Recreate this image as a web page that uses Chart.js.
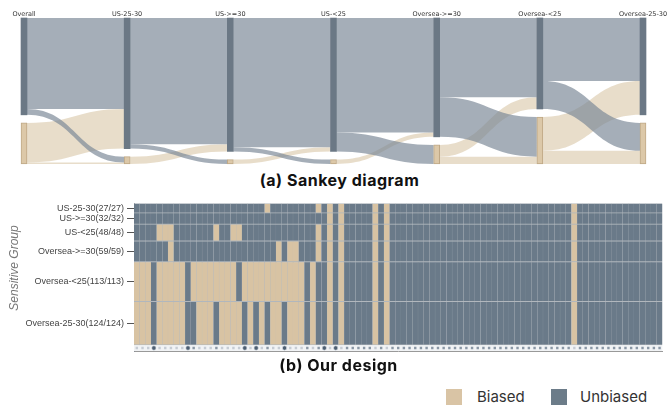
<!DOCTYPE html>
<html>
<head>
<meta charset="utf-8">
<script src="https://cdn.jsdelivr.net/npm/chart.js@4.4.1/dist/chart.umd.min.js"></script>
<style>
  html, body { margin: 0; padding: 0; background: #fff; }
  body { width: 667px; height: 408px; position: relative; overflow: hidden; font-family: Inter, "Liberation Sans", sans-serif; }
  #sankeyBox { position: absolute; left: 0; top: 0; width: 667px; height: 170px; }
  #matrixBox { position: absolute; left: 0; top: 195px; width: 667px; height: 165px; }
  .caption { position: absolute; width: 667px; height: 20px; line-height: 20px; text-align: center; font-weight: 700; font-size: 16px; letter-spacing: 0.5px; color: #111; }
  .swatch { position: absolute; width: 16px; height: 16px; top: 389px; }
  .key { position: absolute; top: 388px; font-size: 15px; line-height: 18px; color: #333; }
</style>
</head>
<body>
<div id="sankeyBox"><canvas id="sankey"></canvas></div>
<div class="caption" style="left:6px; top:170px;">(a) Sankey diagram</div>
<div id="matrixBox"><canvas id="matrix"></canvas></div>
<div class="caption" style="left:5px; top:355px;">(b) Our design</div>
<div class="swatch" style="left:446px; background:#d9c4a5;"></div>
<div class="key" style="left:477px;">Biased</div>
<div class="swatch" style="left:551px; background:#6c7c89;"></div>
<div class="key" style="left:580px;">Unbiased</div>

<script>
const BIASED = '#d8c3a3';
const UNBIASED = '#6a7a89';

// ---- sankey data ----
const stages = ['Overall', 'US-25-30', 'US->=30', 'US-<25', 'Oversea->=30', 'Oversea-<25', 'Oversea-25-30'];
// flows between neighbouring stages
const flowUU = [62, 86, 88, 78, 54, 43];   // unbiased -> unbiased
const flowUB = [4, 3, 3, 13, 27, 19];      // unbiased -> biased
const flowBU = [27, 5, 3, 3, 8, 23];       // biased -> unbiased
const flowBB = [1, 0, 0, 0, 5, 9];         // biased -> biased

// ---- matrix data ----
const groups = ['US-25-30(27/27)', 'US->=30(32/32)', 'US-<25(48/48)', 'Oversea->=30(59/59)', 'Oversea-<25(113/113)', 'Oversea-25-30(124/124)'];
const groupSizes = [27, 32, 48, 59, 113, 124];
const columnCount = 93;
const biasedUS2530 = [23, 32, 34, 36, 42, 44, 77];
const biasedUSge30 = [34, 36, 42, 44, 77];
const biasedUSlt25 = [4, 5, 6, 14, 17, 18, 32, 34, 36, 42, 44, 77];
const biasedOSge30 = [6, 25, 27, 28, 32, 34, 36, 42, 44, 77];
const biasedOSlt25 = [0, 1, 2, 4, 5, 6, 7, 8, 10, 11, 12, 13, 14, 15, 16, 17, 19, 20, 21, 22, 23, 24, 25, 26, 27, 28, 29, 31, 34, 36, 42, 44, 77];
const biasedOS2530 = [0, 1, 2, 4, 5, 6, 7, 8, 11, 12, 13, 15, 16, 17, 18, 20, 22, 24, 25, 27, 28, 29, 31, 34, 36, 42, 44, 77];
const flaggedCols = [3, 9, 19, 21, 26, 33, 35];

// ================= Sankey =================
const GAP = 5.5;
const unbiasedNode = stages.map((s, i) => i < flowUU.length ? flowUU[i] + flowUB[i] : flowUU[i - 1] + flowBU[i - 1]);
const biasedNode = stages.map((s, i) => i < flowUU.length ? flowBU[i] + flowBB[i] : flowUB[i - 1] + flowBB[i - 1]);
const NODE_W = 6;

const sankeyFlows = {
  id: 'sankeyFlows',
  beforeDatasetsDraw(chart) {
    const { ctx, scales: { x, y } } = chart;
    const band = (x0, x1, s0, t0, v, color) => {
      if (!v) return;
      const ys0 = y.getPixelForValue(s0), ys1 = y.getPixelForValue(s0 + v);
      const yt0 = y.getPixelForValue(t0), yt1 = y.getPixelForValue(t0 + v);
      const xm = (x0 + x1) / 2;
      ctx.beginPath();
      ctx.moveTo(x0, ys0);
      ctx.bezierCurveTo(xm, ys0, xm, yt0, x1, yt0);
      ctx.lineTo(x1, yt1);
      ctx.bezierCurveTo(xm, yt1, xm, ys1, x0, ys1);
      ctx.closePath();
      ctx.fillStyle = color;
      ctx.fill();
    };
    ctx.save();
    const tan = 'rgba(214, 193, 158, 0.55)';
    const grey = 'rgba(122, 136, 150, 0.68)';
    for (let i = 0; i < flowUU.length; i++) {
      const x0 = x.getPixelForValue(i) + NODE_W / 2;
      const x1 = x.getPixelForValue(i + 1) - NODE_W / 2;
      const b0 = unbiasedNode[i] + GAP, b1 = unbiasedNode[i + 1] + GAP;
      band(x0, x1, b0, flowUU[i], flowBU[i], tan);
      band(x0, x1, b0 + flowBU[i], b1 + flowUB[i], flowBB[i], tan);
      band(x0, x1, 0, 0, flowUU[i], grey);
      band(x0, x1, flowUU[i], b1, flowUB[i], grey);
    }
    ctx.restore();
  },
  afterDraw(chart) {
    const { ctx, scales: { x } } = chart;
    ctx.save();
    ctx.font = '6.5px "DejaVu Sans"';
    ctx.fillStyle = '#333';
    ctx.textAlign = 'center';
    ctx.textBaseline = 'middle';
    stages.forEach((s, i) => ctx.fillText(s, x.getPixelForValue(i), 14));
    ctx.restore();
  }
};

new Chart(document.getElementById('sankey'), {
  type: 'bar',
  data: {
    labels: stages,
    datasets: [
      {
        label: 'Unbiased',
        data: unbiasedNode.map(v => [0, v]),
        backgroundColor: '#6b7885',
        barThickness: NODE_W,
        grouped: false,
        clip: false
      },
      {
        label: 'Biased',
        data: unbiasedNode.map((u, i) => [u + GAP, u + GAP + biasedNode[i]]),
        backgroundColor: '#dcc8a8',
        borderColor: '#bfa886',
        borderWidth: 1,
        borderSkipped: false,
        barThickness: NODE_W,
        grouped: false,
        clip: false
      }
    ]
  },
  options: {
    responsive: true,
    maintainAspectRatio: false,
    animation: false,
    layout: { padding: { left: 24, right: 24, top: 18, bottom: 6 } },
    scales: {
      x: { type: 'category', offset: false, display: false },
      y: { min: 0, max: 94 + GAP, reverse: true, display: false }
    },
    plugins: { legend: { display: false }, tooltip: { enabled: false } }
  },
  plugins: [sankeyFlows]
});

// ================= Matrix =================
const rowSets = [biasedUS2530, biasedUSge30, biasedUSlt25, biasedOSge30, biasedOSlt25, biasedOS2530];
let acc = 0;
const rowBounds = groupSizes.map(n => { const b = [acc, acc + n]; acc += n; return b; });
const STRIP = [acc, acc + 17];
const colIds = Array.from({ length: columnCount }, (_, i) => String(i + 1));

const rowDatasets = rowSets.map((set, r) => ({
  type: 'bar',
  label: groups[r],
  order: 1,
  data: colIds.map(() => rowBounds[r].slice()),
  backgroundColor: colIds.map((_, c) => set.includes(c) ? BIASED : UNBIASED),
  borderColor: '#b1b7bd',
  borderWidth: { top: 0.8, bottom: 0.8, left: 0.3, right: 0.3 },
  borderSkipped: false,
  barPercentage: 1,
  categoryPercentage: 1,
  grouped: false
}));

const stripMid = (STRIP[0] + STRIP[1]) / 2;

const groupAxisTitle = {
  id: 'groupAxisTitle',
  afterDraw(chart) {
    const { ctx } = chart;
    ctx.save();
    ctx.translate(15, 73);
    ctx.rotate(-Math.PI / 2);
    ctx.font = 'italic 12px "Liberation Sans"';
    ctx.fillStyle = '#777';
    ctx.textAlign = 'center';
    ctx.textBaseline = 'middle';
    ctx.fillText('Sensitive Group', 0, 0);
    ctx.restore();
  }
};

new Chart(document.getElementById('matrix'), {
  type: 'bar',
  data: {
    labels: colIds,
    datasets: [
      {
        type: 'line',
        order: 0,
        data: colIds.map((_, c) => flaggedCols.includes(c) ? stripMid : null),
        showLine: false,
        pointStyle: 'circle',
        pointRadius: 2.2,
        pointBackgroundColor: '#4d5f72',
        pointBorderColor: '#dfe4ea',
        pointBorderWidth: 0.6
      },
      {
        type: 'line',
        order: 0,
        data: colIds.map(() => stripMid),
        showLine: false,
        pointStyle: 'rect',
        pointRadius: 1.7,
        pointBackgroundColor: colIds.map((_, c) => biasedOS2530.includes(c) ? '#c6ccd4' : '#8a97a5'),
        pointBorderWidth: 0
      },
      ...rowDatasets,
      {
        type: 'bar',
        order: 1,
        data: colIds.map(() => STRIP.slice()),
        backgroundColor: '#f1f3f5',
        barPercentage: 1,
        categoryPercentage: 1,
        grouped: false
      }
    ]
  },
  options: {
    responsive: true,
    maintainAspectRatio: false,
    animation: false,
    layout: { padding: { left: 0, right: 0, top: 8, bottom: 9 } },
    scales: {
      x: {
        type: 'category',
        ticks: { display: false },
        grid: { display: false },
        border: { display: true, color: '#999' },
        afterFit(scale) { scale.height = 0; }
      },
      y: {
        min: 0,
        max: STRIP[1],
        reverse: true,
        afterBuildTicks(scale) {
          scale.ticks = rowBounds.map(b => ({ value: (b[0] + b[1]) / 2 }));
        },
        afterFit(scale) { scale.width = 134; },
        ticks: {
          autoSkip: false,
          padding: 3,
          color: '#444',
          font: { family: '"Liberation Sans"', size: 9 },
          callback: (v, i) => groups[i]
        },
        grid: { drawOnChartArea: false, drawTicks: true, tickLength: 7, color: '#555' },
        border: { display: true, color: '#8a8f95' }
      }
    },
    plugins: { legend: { display: false }, tooltip: { enabled: false } }
  },
  plugins: [groupAxisTitle]
});
</script>
</body>
</html>
